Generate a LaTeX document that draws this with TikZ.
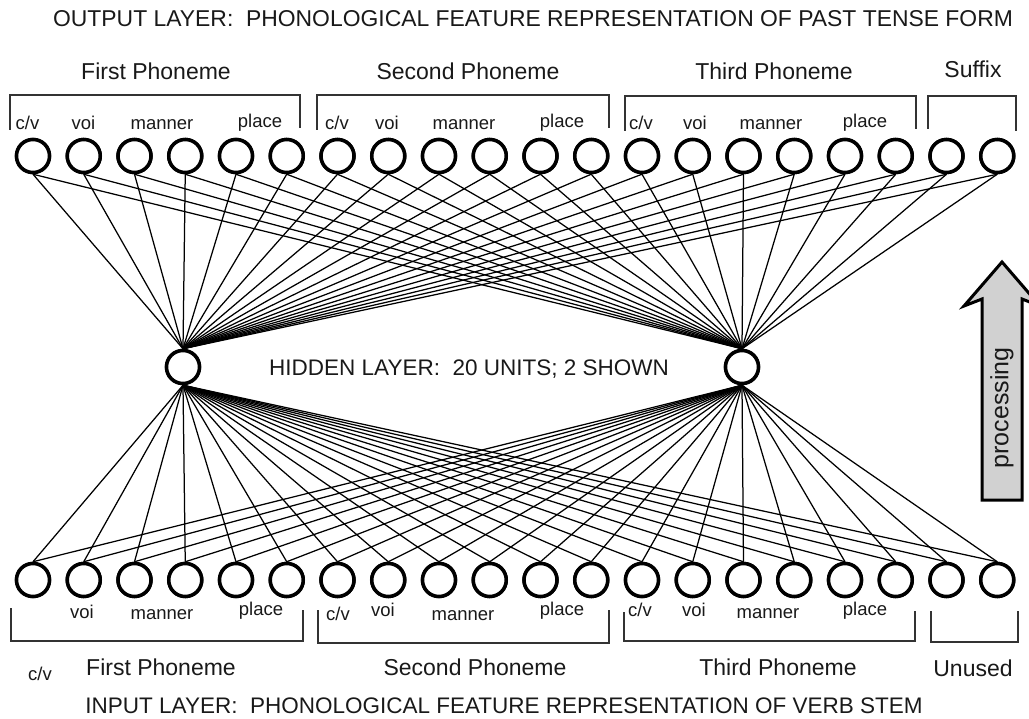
\documentclass[tikz,border=0pt]{standalone}
\usepackage{fontspec}
\setmainfont{Liberation Sans}
\begin{document}
\begin{tikzpicture}[x=1pt,y=-1pt,
  unit/.style={circle,draw,line width=3.5pt,minimum size=33pt,inner sep=0pt,fill=white},
  conn/.style={line width=1.25pt},
  bracket/.style={line width=1.8pt,draw=black!80},
  txt/.style={text=black!90,anchor=base,inner sep=0pt},
  bigtitle/.style={txt,font=\fontsize{22.9}{26}\selectfont},
  title/.style={txt,font=\fontsize{22.5}{25}\selectfont},
  phon/.style={txt,font=\fontsize{23}{25}\selectfont},
  feat/.style={txt,font=\fontsize{18.5}{20}\selectfont},
  arrowbody/.style={line width=3pt,line join=miter,fill=black!18,draw=black},
]
\useasboundingbox (0,0) rectangle (1029,719);

% unit positions
\foreach \i in {0,...,19} {
  \pgfmathsetmacro\xx{33+50.75*\i}
  \coordinate (po\i) at (\xx,156);
  \coordinate (pi\i) at (\xx,580);
}
\node[unit] (h1) at (183,367) {};
\node[unit] (h2) at (742,367) {};
\foreach \i in {0,...,19} {
  \node[unit] (o\i) at (po\i) {};
  \node[unit] (i\i) at (pi\i) {};
}
% connections: every output and input unit to both hidden units
\foreach \i in {0,...,19} {
  \draw[conn] (o\i.south) -- (h1.north);
  \draw[conn] (o\i.south) -- (h2.north);
  \draw[conn] (i\i.north) -- (h1.south);
  \draw[conn] (i\i.north) -- (h2.south);
}
% redraw the units over the connectors
\foreach \i in {0,...,19} {
  \node[unit] at (po\i) {};
  \node[unit] at (pi\i) {};
}
\node[unit] at (h1) {};
\node[unit] at (h2) {};

% output layer headings
\node[bigtitle] (outtitle) at (533,27) {OUTPUT LAYER:\ \ PHONOLOGICAL FEATURE REPRESENTATION OF PAST TENSE FORM};
\node[phon] (oph1) at (156,80) {First Phoneme};
\node[phon] (oph2) at (468,80) {Second Phoneme};
\node[phon] (oph3) at (774,80) {Third Phoneme};
\node[phon] (osuf) at (973,78) {Suffix};

% output brackets
\draw[bracket] (10,130) |- (300,95) -- (300,128);
\draw[bracket] (317,130) |- (609,95) -- (609,128);
\draw[bracket] (625,131) |- (916,96) -- (916,129);
\draw[bracket] (928,129) |- (1016,96) -- (1016,131);

% output feature labels
\node[feat] (ocv1) at (27.5,130) {c/v};
\node[feat] (ovoi1) at (83.5,130) {voi};
\node[feat] (oman1) at (162,130) {manner};
\node[feat] (opl1) at (260,128) {place};
\node[feat] (ocv2) at (337,130) {c/v};
\node[feat] (ovoi2) at (387,130) {voi};
\node[feat] (oman2) at (464,130) {manner};
\node[feat] (opl2) at (562,128) {place};
\node[feat] (ocv3) at (641,130) {c/v};
\node[feat] (ovoi3) at (695,130) {voi};
\node[feat] (oman3) at (771,130) {manner};
\node[feat] (opl3) at (865,128) {place};

% hidden layer label
\node[title] (hidtitle) at (469,376) {HIDDEN LAYER:\ \ 20 UNITS; 2 SHOWN};

% input feature labels
\node[feat] (ivoi1) at (82,618) {voi};
\node[feat] (iman1) at (162,619) {manner};
\node[feat] (ipl1) at (261,615) {place};
\node[feat] (icv2) at (338,620) {c/v};
\node[feat] (ivoi2) at (383,616) {voi};
\node[feat] (iman2) at (463,620) {manner};
\node[feat] (ipl2) at (562,615) {place};
\node[feat] (icv3) at (640,616) {c/v};
\node[feat] (ivoi3) at (694,616) {voi};
\node[feat] (iman3) at (768,618) {manner};
\node[feat] (ipl3) at (865,615) {place};

% input brackets
\draw[bracket] (11,608) |- (303,641) -- (303,610);
\draw[bracket] (318,610) |- (609,643) -- (609,610);
\draw[bracket] (624,612) |- (915,641) -- (915,611);
\draw[bracket] (931,611) |- (1018,642) -- (1018,611);

% input layer headings
\node[feat] (icv1) at (40,680) {c/v};
\node[phon] (iph1) at (161,675) {First Phoneme};
\node[phon] (iph2) at (475,675) {Second Phoneme};
\node[phon] (iph3) at (778,675) {Third Phoneme};
\node[phon] (iunused) at (973,676) {Unused};
\node[title] (intitle) at (504,713) {INPUT LAYER:\ \ PHONOLOGICAL FEATURE REPRESENTATION OF VERB STEM};

% processing arrow
\draw[arrowbody] (1002,262) -- (1040,306) -- (1022,299) -- (1022,500)
  -- (982,500) -- (982,299) -- (964,306) -- cycle;
\node[txt,anchor=center,rotate=90,font=\fontsize{25}{27}\selectfont] (proc) at (1002,408) {processing};
\end{tikzpicture}
\end{document}
